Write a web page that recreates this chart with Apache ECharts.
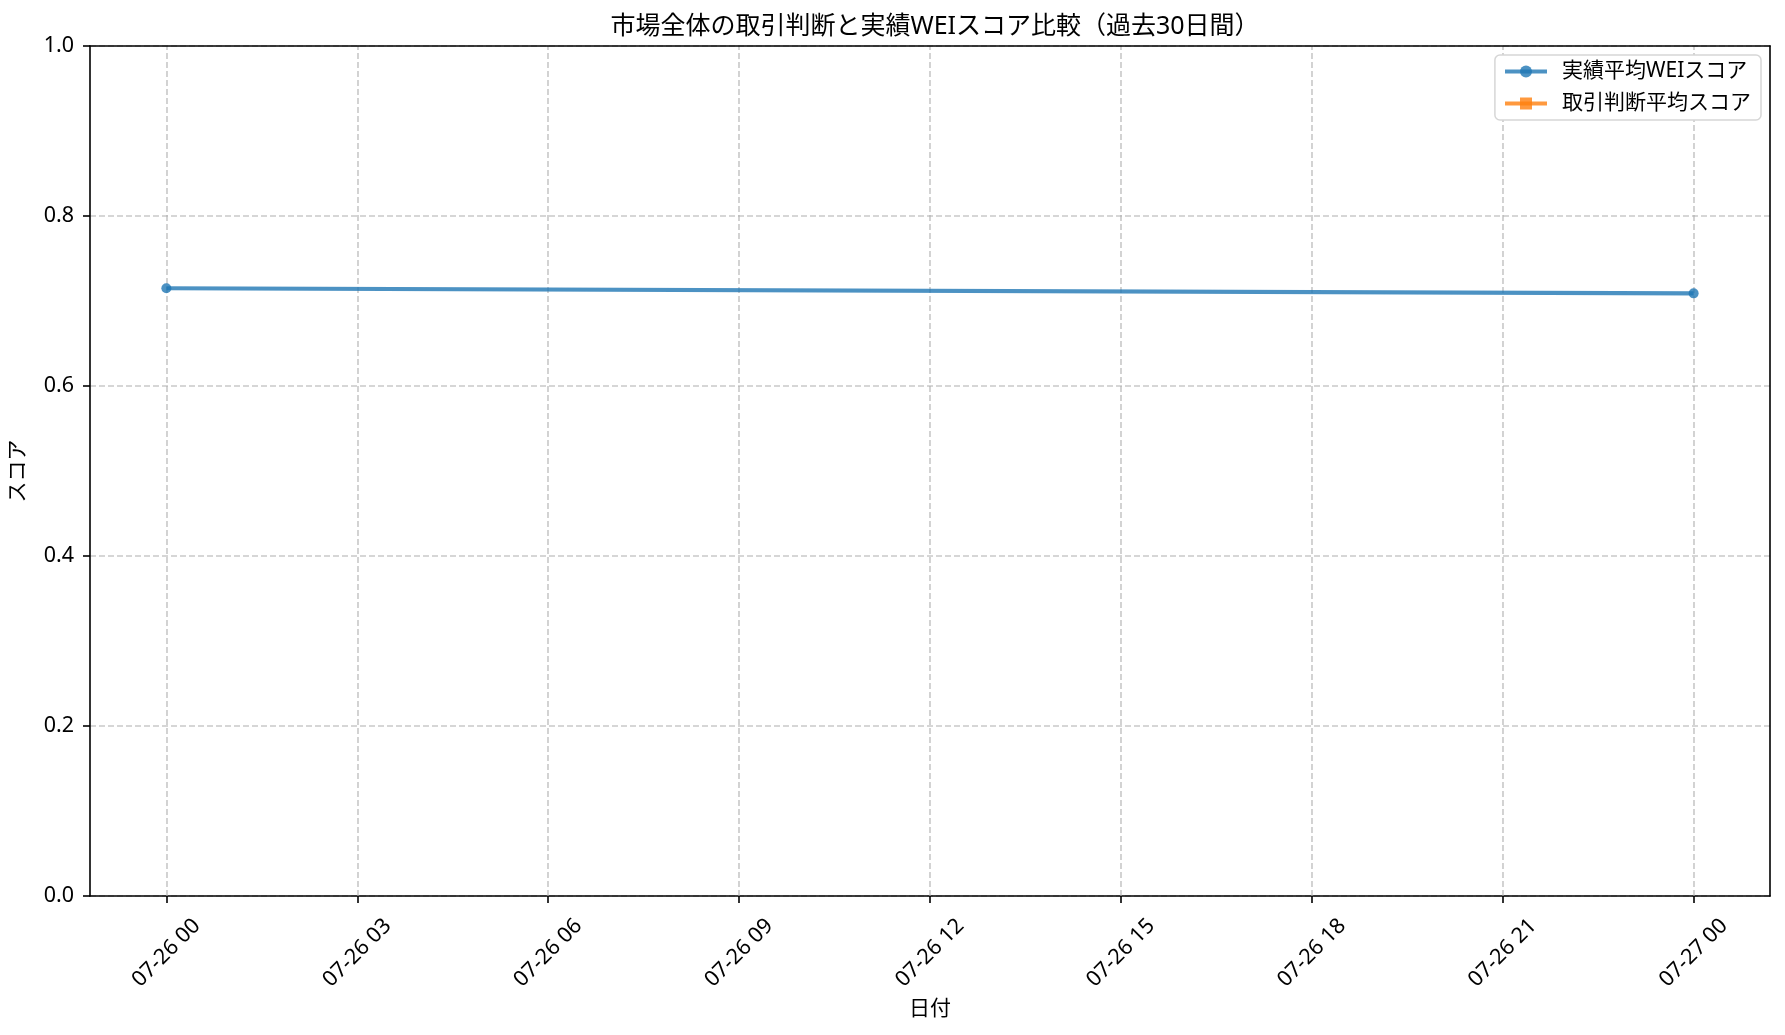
<!DOCTYPE html>
<html>
<head>
<meta charset="utf-8">
<script src="https://cdn.jsdelivr.net/npm/echarts@6/dist/echarts.min.js"></script>
<style>
html,body{margin:0;padding:0;background:#fff;}
#chart{width:1785px;height:1035px;}
</style>
</head>
<body>
<div id="chart"></div>
<script>
// ---- data ----
const dates = ['2025-07-26T00:00', '2025-07-27T00:00'];
const actualWeiScores = [0.715, 0.709];
const tradeJudgeScores = [];
const xTickLabels = ['07-26 00','07-26 03','07-26 06','07-26 09','07-26 12','07-26 15','07-26 18','07-26 21','07-27 00'];
const yTickValues = [0.0, 0.2, 0.4, 0.6, 0.8, 1.0];
const seriesNames = ['実績平均WEIスコア', '取引判断平均スコア'];
const titleText = '市場全体の取引判断と実績WEIスコア比較（過去30日間）';

// ---- helpers ----
const baseDay = 26;
function isoToHours(s) {
  const d = parseInt(s.slice(8, 10), 10);
  const h = parseInt(s.slice(11, 13), 10);
  const m = parseInt(s.slice(14, 16), 10);
  return (d - baseDay) * 24 + h + m / 60;
}
function labelToHours(s) {
  const d = parseInt(s.slice(3, 5), 10);
  const h = parseInt(s.slice(6, 8), 10);
  return (d - baseDay) * 24 + h;
}
const xHours = dates.map(isoToHours);
const tickHours = xTickLabels.map(labelToHours);
const labelByHour = {};
xTickLabels.forEach((l, i) => { labelByHour[tickHours[i]] = l; });
const span = xHours[xHours.length - 1] - xHours[0];
const xMin = xHours[0] - span * 0.05;
const xMax = xHours[xHours.length - 1] + span * 0.05;
const yMin = yTickValues[0];
const yMax = yTickValues[yTickValues.length - 1];

const FONT = '"Noto Sans", "Noto Sans CJK JP", sans-serif';
const gridColor = 'rgba(176,176,176,0.7)';
const frameLine = {show: true, onZero: false, lineStyle: {color: '#000', width: 1.6}};

const chart = echarts.init(document.getElementById('chart'), null, {renderer: 'canvas'});
chart.setOption({
  animation: false,
  backgroundColor: '#fff',
  textStyle: {fontFamily: FONT},
  title: {
    text: titleText,
    left: 930,
    textAlign: 'center',
    top: 9,
    textStyle: {fontFamily: FONT, fontSize: 25, fontWeight: 'normal', color: '#000'}
  },
  grid: {
    left: 90, right: 15, top: 46, bottom: 139,
    show: false
  },
  legend: {
    data: seriesNames,
    orient: 'vertical',
    right: 24,
    top: 55,
    padding: [6, 10, 6, 8],
    itemGap: 11,
    itemWidth: 42,
    itemHeight: 15,
    backgroundColor: '#fff',
    borderColor: '#d6d6d6',
    borderWidth: 1.5,
    borderRadius: 5,
    lineStyle: {width: 4.2},
    textStyle: {fontFamily: FONT, fontSize: 21, color: '#000', padding: [0, 0, 0, 10]}
  },
  xAxis: [{
    type: 'value',
    min: xMin,
    max: xMax,
    name: '日付',
    nameLocation: 'middle',
    nameGap: 103,
    nameTextStyle: {fontFamily: FONT, fontSize: 21, color: '#000'},
    axisLine: frameLine,
    axisTick: {show: true, length: 7, lineStyle: {color: '#000', width: 1.6}, customValues: tickHours},
    axisLabel: {
      customValues: tickHours,
      rotate: 45,
      align: 'center',
      verticalAlign: 'middle',
      margin: 57,
      fontFamily: FONT, fontSize: 21.5, color: '#000',
      formatter: v => labelByHour[v] !== undefined ? labelByHour[v] : ''
    },
    splitLine: {show: false}
  }, {
    type: 'value', position: 'top', min: xMin, max: xMax, z: 5,
    axisLine: frameLine, axisTick: {show: false}, axisLabel: {show: false}, splitLine: {show: false}
  }],
  yAxis: [{
    type: 'value',
    min: yMin,
    max: yMax,
    interval: 0.2,
    name: 'スコア',
    nameLocation: 'middle',
    nameGap: 61,
    nameRotate: 90,
    nameTextStyle: {fontFamily: FONT, fontSize: 21, color: '#000'},
    axisLine: frameLine,
    axisTick: {show: true, length: 7, lineStyle: {color: '#000', width: 1.6}},
    axisLabel: {
      margin: 16, fontFamily: FONT, fontSize: 21.5, color: '#000',
      formatter: v => v.toFixed(1)
    },
    splitLine: {show: true, lineStyle: {color: gridColor, width: 1.6, type: [6, 3]}}
  }, {
    type: 'value', position: 'right', min: yMin, max: yMax, z: 5,
    axisLine: frameLine, axisTick: {show: false}, axisLabel: {show: false}, splitLine: {show: false}
  }],
  series: [
    {
      name: seriesNames[0],
      type: 'line',
      data: xHours.map((x, i) => [x, actualWeiScores[i]]),
      symbol: 'circle',
      symbolSize: 10,
      itemStyle: {color: '#1f77b4', opacity: 0.8},
      lineStyle: {color: '#1f77b4', width: 4.2, opacity: 0.8},
      z: 3,
      markLine: {
        silent: true,
        symbol: ['none', 'none'],
        label: {show: false},
        lineStyle: {color: gridColor, width: 1.6, type: [6, 3]},
        emphasis: {disabled: true},
        z: 1,
        data: tickHours.map(h => ({xAxis: h}))
      }
    },
    {
      name: seriesNames[1],
      type: 'line',
      data: tradeJudgeScores,
      symbol: 'rect',
      symbolSize: 10,
      itemStyle: {color: '#ff7f0e', opacity: 0.8},
      lineStyle: {color: '#ff7f0e', width: 4.2, opacity: 0.8}
    }
  ]
});
</script>
</body>
</html>
